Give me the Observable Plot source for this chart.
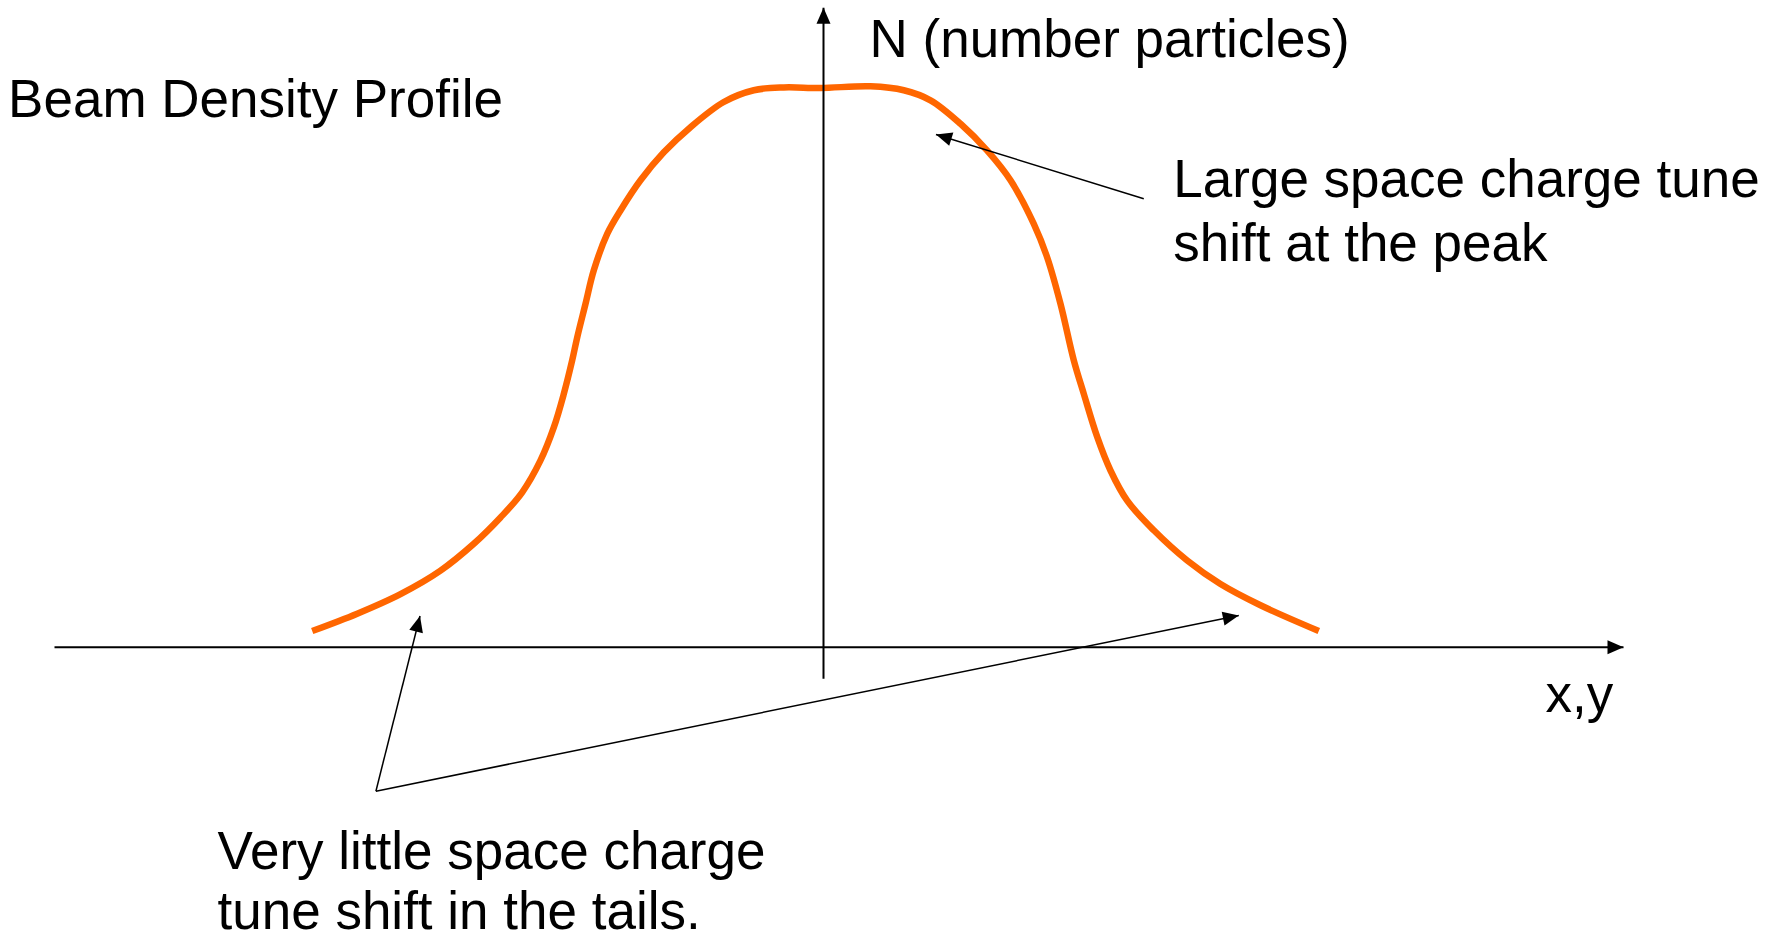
<!DOCTYPE html>
<html><head><meta charset="utf-8">
<script src="https://cdn.jsdelivr.net/npm/d3@7"></script>
<script src="https://cdn.jsdelivr.net/npm/@observablehq/plot@0.6"></script>
<style>html,body{margin:0;padding:0;background:#fff;} #chart svg{display:block}</style>
</head><body><div id="chart"></div>
<script>
// Beam density profile (x in arbitrary transverse units, N normalised to the peak)
const profileX = [-5.113, -4.663, -4.23, -3.83, -3.497, -3.23, -3.013, -2.83, -2.697, -2.597, -2.513, -2.463, -2.38, -2.297, -2.163, -2.03, -1.83, -1.597, -1.33, -0.997, -0.697, -0.397, -0.03, 0.47, 0.803, 1.07, 1.37, 1.637, 1.87, 2.103, 2.237, 2.37, 2.503, 2.603, 2.737, 2.87, 3.037, 3.303, 3.637, 3.97, 4.37, 4.953];
const profileN = [0.029, 0.060, 0.095, 0.137, 0.185, 0.232, 0.277, 0.334, 0.393, 0.453, 0.513, 0.554, 0.614, 0.674, 0.739, 0.781, 0.835, 0.885, 0.930, 0.975, 0.996, 1.001, 1.0, 1.003, 0.996, 0.978, 0.936, 0.888, 0.835, 0.757, 0.697, 0.614, 0.513, 0.453, 0.376, 0.316, 0.262, 0.209, 0.155, 0.113, 0.075, 0.029];

const chartTitle = "Beam Density Profile";
const yAxisLabel = "N (number particles)";
const xAxisLabel = "x,y";
const peakNote = ["Large space charge tune", "shift at the peak"];
const tailNote = ["Very little space charge", "tune shift in the tails."];

const profile = profileX.map((x, i) => ({x, n: profileN[i]}));

const W = 1767, H = 939;
const FONT = "'Liberation Sans', Arial, Helvetica, sans-serif";
const FS = 53;
const xOpts = {type: "linear", domain: [-8, 8], range: [23, 1623]};
const yOpts = {type: "linear", domain: [0, 1], range: [646.7, 87.5]};
const sx = Plot.scale({x: xOpts});
const sy = Plot.scale({y: yOpts});

// arrow geometry in data units
const axisArrows = [
  {x1: -7.69, y1: 0, x2: 8.0, y2: 0},
  {x1: 0, y1: -0.0565, x2: 0, y2: 1.1434}
];
const pointerArrows = [
  {x1: 3.203, y1: 0.802, x2: 1.125, y2: 0.917},
  {x1: -4.476, y1: -0.2575, x2: -4.035, y2: 0.0558},
  {x1: -4.476, y1: -0.2575, x2: 4.153, y2: 0.0567}
];

const headSymbol = {
  draw(context) {
    context.moveTo(0, 0);
    context.lineTo(-7, 16);
    context.lineTo(7, 16);
    context.closePath();
  }
};
const angle = d => {
  const dx = sx.apply(d.x2) - sx.apply(d.x1);
  const dy = sy.apply(d.y2) - sy.apply(d.y1);
  return Math.atan2(dx, -dy) * 180 / Math.PI;
};

const textOpts = {textAnchor: "start", lineAnchor: "bottom", fontSize: FS, fontFamily: FONT, fill: "black", text: d => d};

const chart = Plot.plot({
  width: W,
  height: H,
  margin: 0,
  x: {...xOpts, axis: null},
  y: {...yOpts, axis: null},
  style: {background: "white", fontFamily: FONT},
  marks: [
    Plot.line(profile, {x: "x", y: "n", stroke: "#FF6600", strokeWidth: 6.5, curve: "catmull-rom", strokeLinecap: "butt", strokeLinejoin: "round"}),
    Plot.link(axisArrows, {x1: "x1", y1: "y1", x2: "x2", y2: "y2", stroke: "black", strokeWidth: 2}),
    Plot.dot(axisArrows, {x: "x2", y: "y2", rotate: angle, symbol: headSymbol, fill: "black", stroke: "none", r: 1}),
    Plot.link(pointerArrows, {x1: "x1", y1: "y1", x2: "x2", y2: "y2", stroke: "black", strokeWidth: 1.5}),
    Plot.dot(pointerArrows, {x: "x2", y: "y2", rotate: angle, symbol: headSymbol, fill: "black", stroke: "none", r: 1}),
    Plot.text([chartTitle], {...textOpts, x: -8.154, y: 0.9478}),
    Plot.text([yAxisLabel], {...textOpts, x: 0.46, y: 1.0551}),
    Plot.text([xAxisLabel], {...textOpts, x: 7.22, y: -0.1162}),
    Plot.text([peakNote.join("\n")], {...textOpts, x: 3.498, y: 0.6915, lineHeight: 63.3 / FS}),
    Plot.text([tailNote.join("\n")], {...textOpts, x: -6.06, y: -0.5048, lineHeight: 60 / FS})
  ]
});
document.getElementById("chart").appendChild(chart);
</script>
</body></html>
